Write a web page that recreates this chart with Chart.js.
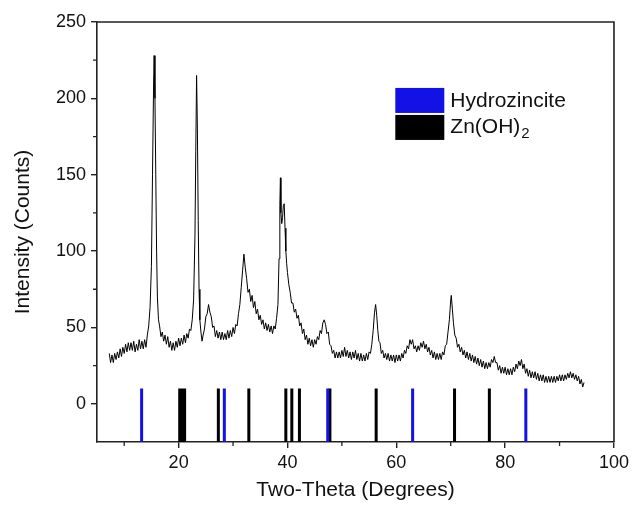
<!DOCTYPE html>
<html><head><meta charset="utf-8">
<script src="https://cdn.jsdelivr.net/npm/chart.js@4/dist/chart.umd.min.js"></script>
<style>html,body{margin:0;padding:0;background:#fff}#wrap{width:633px;height:508px}</style>
</head><body><div id="wrap"><canvas id="c" width="633" height="508"></canvas></div>
<script>
// ---- data ----
const twoTheta = [
  7.25,7.5,7.75,
  8,8.25,8.5,8.75, 9,9.25,9.5,9.75, 10,10.25,10.5,10.75, 11,11.25,11.5,11.75,
  12,12.25,12.5,12.75, 13,13.25,13.5,13.75, 14,14.25,14.5,14.75,
  15,15.2,15.4,15.5,15.65,15.8,15.95,
  16.1,16.3,16.5,16.75, 17,17.25,17.5,17.75, 18,18.25,18.5,18.75, 19,19.25,19.5,19.75,
  20,20.25,20.5,20.75, 21,21.25,21.5,21.75, 22,22.25,22.5,22.75,
  23,23.15,23.3,23.45,23.6,23.75,23.9,
  24.1,24.3,24.5,24.75, 25,25.25,25.5,25.75, 26,26.25,26.5,26.75, 27,27.25,27.5,27.75,
  28,28.25,28.5,28.75, 29,29.25,29.5,29.75, 30,30.25,30.5,30.75, 31,31.25,31.5,31.75,
  32,32.25,32.5,32.75, 33,33.25,33.5,33.75, 34,34.25,34.5,34.75, 35,35.25,35.5,35.75,
  36,36.25,36.5,36.75, 37,37.25,37.5,37.75,
  38,38.25,38.45,38.6,38.7,38.8,38.95,
  39.1,39.25,39.4,39.55,39.7,39.85,
  40,40.25,40.5,40.75, 41,41.25,41.5,41.75, 42,42.25,42.5,42.75, 43,43.25,43.5,43.75,
  44,44.25,44.5,44.75, 45,45.25,45.5,45.75, 46,46.25,46.5,46.75, 47,47.25,47.5,47.75,
  48,48.25,48.5,48.75, 49,49.25,49.5,49.75, 50,50.25,50.5,50.75, 51,51.25,51.5,51.75,
  52,52.25,52.5,52.75, 53,53.25,53.5,53.75, 54,54.25,54.5,54.75, 55,55.25,55.5,55.75,
  56,56.2,56.4,56.6,56.8,
  57,57.25,57.5,57.75, 58,58.25,58.5,58.75, 59,59.25,59.5,59.75, 60,60.25,60.5,60.75,
  61,61.25,61.5,61.75, 62,62.25,62.5,62.75, 63,63.25,63.5,63.75, 64,64.25,64.5,64.75,
  65,65.25,65.5,65.75, 66,66.25,66.5,66.75, 67,67.25,67.5,67.75, 68,68.25,68.5,68.75,
  69,69.25,69.5,69.75,
  70,70.1,70.3,70.5,70.75,
  71,71.25,71.5,71.75, 72,72.25,72.5,72.75, 73,73.25,73.5,73.75, 74,74.25,74.5,74.75,
  75,75.25,75.5,75.75, 76,76.25,76.5,76.75, 77,77.25,77.5,77.75, 78,78.25,78.5,78.75,
  79,79.25,79.5,79.75, 80,80.25,80.5,80.75, 81,81.25,81.5,81.75, 82,82.25,82.5,82.75,
  83,83.25,83.5,83.75, 84,84.25,84.5,84.75, 85,85.25,85.5,85.75, 86,86.25,86.5,86.75,
  87,87.25,87.5,87.75, 88,88.25,88.5,88.75, 89,89.25,89.5,89.75, 90,90.25,90.5,90.75,
  91,91.25,91.5,91.75, 92,92.25,92.5,92.75, 93,93.25,93.5,93.75,
  94,94.25,94.5
];
const counts = [
  33,27,32,
  27,33,29,34, 30,36,31,37, 33,39,34,40, 35,40,35,41,
  34,39,35,42, 36,41,36,42, 37,45,51,63,
  90,150,210,228,200,150,100,
  70,55,51,44, 47,41,45,39, 44,37,41,35, 40,35,41,37,
  43,38,43,39, 45,40,46,43, 49,48,55,68,
  110,165,215,180,120,75,55,
  47,41,45,49, 57,59,65,60, 57,50,51,44, 48,43,47,42,
  47,42,46,42, 48,43,48,44, 50,46,52,51, 59,65,76,87,
  98,89,82,73, 75,67,71,63, 67,59,62,55, 58,52,55,49,
  53,48,52,47, 51,46,51,49,
  56,65,95,130,148,125,118,
  122,130,131,115,100,92,
  86,78,73,66, 66,60,62,56, 58,51,53,46, 49,42,45,39,
  43,38,42,37, 42,39,44,42, 48,46,53,55, 52,46,47,39,
  38,33,35,30, 34,30,34,30, 35,31,37,31, 35,30,34,29,
  34,30,35,29, 33,28,33,28, 32,28,33,29, 34,33,39,48,
  60,65,58,48,41,
  40,33,35,30, 33,29,33,28, 32,28,32,27, 32,28,32,28,
  33,30,35,33, 38,36,42,39, 42,36,38,34, 38,35,40,37,
  41,36,39,34, 37,32,35,30, 34,29,33,29, 33,29,34,32,
  38,39,47,55,
  68,71,62,53,45,
  43,37,39,34, 37,32,35,30, 34,29,33,28, 32,27,31,26,
  30,25,29,24, 28,23,27,23, 27,24,29,27, 31,27,27,22,
  25,20,24,20, 24,19,23,19, 23,19,24,21, 26,23,28,25,
  29,23,26,20, 23,18,22,17, 21,17,21,16, 20,15,19,15,
  19,14,18,14, 18,14,18,14, 18,14,18,15, 19,15,19,15,
  19,16,20,17, 21,17,20,16, 19,15,18,13,
  16,11,14
];
// reference stick positions (2θ)
const hydrozinciteLines = [13.2, 28.4, 47.4, 63.0, 83.8];
const znOH2Lines = [20.2, 20.7, 21.1, 27.3, 32.9, 39.7, 40.8, 42.2, 47.8, 56.3, 70.7, 77.1];
const stickBottom = -25, stickTop = 10;
// axes
const xMajorTicks = [20, 40, 60, 80, 100];
const xMinorTicks = [10, 30, 50, 70, 90];
const yMajorTicks = [0, 50, 100, 150, 200, 250];
const yMinorTicks = [25, 75, 125, 175, 225];
const legendLabels = ['Hydrozincite', 'Zn(OH)', '2'];

// ---- build datasets ----
const patternPts = twoTheta.map((x, i) => ({x, y: counts[i]}));
function stickPts(arr) {
  const pts = [];
  arr.forEach(x => { pts.push({x, y: stickBottom}, {x, y: stickTop}, {x, y: null}); });
  return pts;
}
const FONT = "'Liberation Sans', Arial, sans-serif";
const BLUE = '#1212e6';

const framePlugin = {
  id: 'frame',
  afterDraw(chart) {
    const ctx = chart.ctx;
    const {left, right, top, bottom} = chart.chartArea;
    const xs = chart.scales.x, ys = chart.scales.y;
    ctx.save();
    ctx.strokeStyle = '#222';
    ctx.lineWidth = 1.6;
    ctx.beginPath();
    ctx.moveTo(left, top); ctx.lineTo(right, top); ctx.lineTo(right, bottom);
    ctx.stroke();
    ctx.lineWidth = 1.3;
    ctx.beginPath();
    xMinorTicks.forEach(v => { const p = xs.getPixelForValue(v); ctx.moveTo(p, bottom); ctx.lineTo(p, bottom + 4); });
    yMinorTicks.forEach(v => { const p = ys.getPixelForValue(v); ctx.moveTo(left - 4, p); ctx.lineTo(left, p); });
    ctx.stroke();
    // legend
    const w = right - left, h = bottom - top;
    const bx = left + w * 0.577, by = top + h * 0.157;
    const bw = 49, bh = 25;
    ctx.fillStyle = BLUE; ctx.fillRect(bx, by, bw, bh);
    ctx.fillStyle = '#000'; ctx.fillRect(bx, by + bh + 2, bw, bh);
    ctx.fillStyle = '#111';
    ctx.textBaseline = 'middle';
    ctx.textAlign = 'left';
    ctx.font = '21px ' + FONT;
    ctx.fillText(legendLabels[0], bx + bw + 6, by + bh / 2 + 1);
    ctx.fillText(legendLabels[1], bx + bw + 6, by + bh * 1.5 + 2);
    const tw = ctx.measureText(legendLabels[1]).width;
    ctx.font = '15px ' + FONT;
    ctx.fillText(legendLabels[2], bx + bw + 6 + tw + 1, by + bh * 1.5 + 8);
    ctx.restore();
  }
};

new Chart(document.getElementById('c'), {
  type: 'scatter',
  data: {
    datasets: [
      {label: 'pattern', data: patternPts, showLine: true, borderColor: '#000', borderWidth: 1, pointRadius: 0, tension: 0},
      {label: 'Hydrozincite', data: stickPts(hydrozinciteLines), showLine: true, spanGaps: false, borderColor: BLUE, borderWidth: 3, pointRadius: 0},
      {label: 'Zn(OH)2', data: stickPts(znOH2Lines), showLine: true, spanGaps: false, borderColor: '#000', borderWidth: 3, pointRadius: 0}
    ]
  },
  options: {
    responsive: false,
    animation: false,
    layout: {padding: {top: 22, right: 14, left: 0, bottom: 0}},
    plugins: {legend: {display: false}, tooltip: {enabled: false}},
    scales: {
      x: {
        type: 'linear', min: 5, max: 100,
        afterBuildTicks: s => { s.ticks = xMajorTicks.map(v => ({value: v})); },
        afterFit: s => { s.height = 66; },
        grid: {display: true, drawOnChartArea: false, drawTicks: true, tickLength: 6, tickColor: '#222', lineWidth: 1.4},
        border: {display: true, color: '#222', width: 1.6},
        ticks: {font: {size: 18, family: FONT}, color: '#111', padding: 4, maxRotation: 0, autoSkip: false},
        title: {display: true, text: 'Two-Theta (Degrees)', font: {size: 21, family: FONT}, color: '#111', padding: {top: 0, bottom: 5}}
      },
      y: {
        type: 'linear', min: -25, max: 250,
        afterBuildTicks: s => { s.ticks = yMajorTicks.map(v => ({value: v})); },
        afterFit: s => { s.width = 97; },
        grid: {display: true, drawOnChartArea: false, drawTicks: true, tickLength: 6, tickColor: '#222', lineWidth: 1.4},
        border: {display: true, color: '#222', width: 1.6},
        ticks: {font: {size: 18, family: FONT}, color: '#111', padding: 5},
        title: {display: true, text: 'Intensity (Counts)', font: {size: 21, family: FONT}, color: '#111', padding: {top: 11, bottom: 0}}
      }
    }
  },
  plugins: [framePlugin]
});
</script></body></html>
